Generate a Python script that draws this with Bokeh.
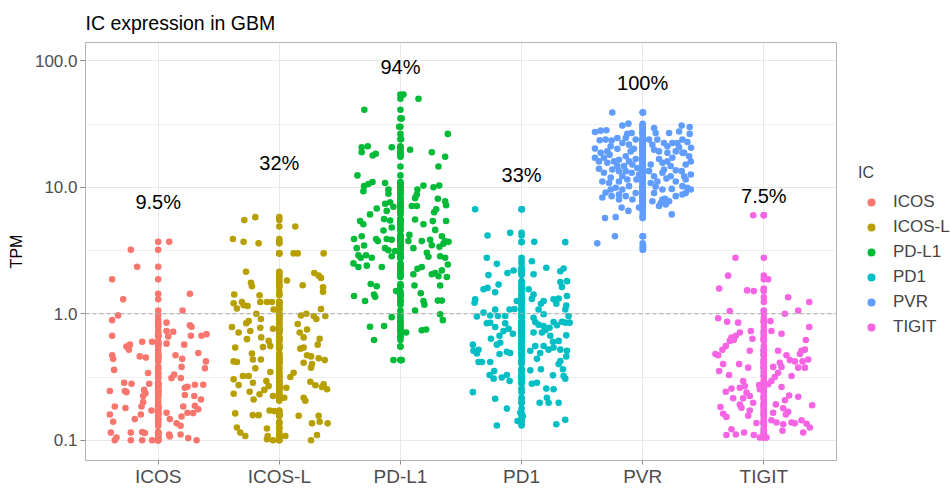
from bokeh.plotting import figure
from bokeh.layouts import row
from bokeh.models import (ColumnDataSource, Range1d, FixedTicker, CustomJSTickFormatter,
                          Span, Legend, LegendItem)
from bokeh.core.properties import value
from bokeh.embed import file_html
from bokeh.resources import INLINE

FONT = "Liberation Sans"

categories = ["ICOS", "ICOS-L", "PD-L1", "PD1", "PVR", "TIGIT"]
colors = ["#F8766D", "#B79F00", "#00BA38", "#00BFC4", "#619CFF", "#F564E3"]
pct_labels = ["9.5%", "32%", "94%", "33%", "100%", "7.5%"]
pct_label_tpm = [7.7, 15.6, 90, 12.6, 66.5, 8.5]
y_ticks = [0.1, 1, 10, 100]
y_minor = [0.316, 3.16, 31.6]

# TPM values and horizontal jitter offsets (category units)
icos_tpm = [3.7, 3.2, 2.35, 1.87, 1.44, 1.30, 1.06, 0.97, 0.89, 0.81,
            0.79, 0.85, 0.73, 0.72, 0.67, 0.67, 0.66, 0.67, 0.69, 0.60,
            0.60, 0.58, 0.57, 0.57, 0.55, 0.52, 0.47, 0.44, 0.46, 0.45,
            0.47, 0.49, 0.44, 0.42, 0.36, 0.38, 0.37, 0.34, 0.33, 0.31,
            0.31, 0.285, 0.28, 0.28, 0.245, 0.245, 0.24, 0.25, 0.235, 0.265,
            0.26, 0.275, 0.275, 0.224, 0.228, 0.224, 0.21, 0.20, 0.185, 0.185,
            0.18, 0.172, 0.185, 0.187, 0.176, 0.16, 0.16, 0.165, 0.154, 0.165,
            0.164, 0.147, 0.14, 0.147, 0.136, 0.13, 0.115, 0.115, 0.116, 0.114,
            0.111, 0.111, 0.105, 0.10, 0.10, 0.10, 0.10, 0.107, 0.104, 0.10]
icos_dx = [0.091, -0.226, -0.174, -0.380, 0.262, -0.289, 0.201, -0.331, -0.380, 0.262,
           0.275, 0.069, 0.069, 0.124, -0.380, 0.270, 0.083, 0.358, 0.399, -0.132,
           -0.050, 0.069, 0.215, -0.234, -0.262, -0.242, -0.380, -0.372, -0.152, -0.102,
           0.143, 0.331, 0.198, 0.394, -0.364, 0.193, 0.386, -0.083, 0.132, 0.110,
           0.187, -0.281, -0.220, -0.074, -0.399, -0.275, -0.262, -0.116, -0.105, 0.242,
           0.220, 0.303, 0.372, -0.124, 0.220, 0.298, 0.353, -0.124, -0.138, -0.358,
           -0.270, -0.055, 0.207, 0.303, 0.331, -0.399, -0.143, 0.069, 0.193, 0.242,
           0.289, -0.193, -0.372, 0.096, 0.152, 0.185, -0.391, -0.226, -0.132, -0.110,
           0.091, 0.185, -0.344, -0.358, -0.226, -0.132, -0.050, 0.096, 0.248, 0.317]

icosl_tpm = [5.5, 5.8, 4.9, 3.9, 3.7, 3.6, 3.0, 3.0, 3.0, 2.15,
             2.1, 2.0, 1.92, 1.83, 1.76, 1.65, 1.68, 1.62, 1.49, 1.42,
             1.40, 1.24, 1.21, 1.24, 1.17, 1.15, 1.10, 1.24, 1.24, 1.08,
             1.09, 0.97, 1.0, 0.96, 0.91, 0.96, 1.0, 0.91, 0.875, 0.84,
             0.785, 0.73, 0.71, 0.775, 0.76, 0.83, 0.75, 0.71, 0.65, 0.63,
             0.65, 0.61, 0.635, 0.57, 0.54, 0.545, 0.555, 0.54, 0.53, 0.485,
             0.435, 0.435, 0.42, 0.415, 0.47, 0.46, 0.41, 0.40, 0.43, 0.445,
             0.37, 0.375, 0.346, 0.342, 0.316, 0.322, 0.322, 0.303, 0.273, 0.285,
             0.294, 0.268, 0.29, 0.272, 0.264, 0.253, 0.277, 0.25, 0.231, 0.242,
             0.233, 0.224, 0.26, 0.217, 0.21, 0.217, 0.205, 0.163, 0.158, 0.158,
             0.172, 0.17, 0.156, 0.156, 0.136, 0.14, 0.136, 0.126, 0.115, 0.108,
             0.124, 0.108, 0.102, 0.10, 0.108, 0.11, 0.10]
icosl_dx = [-0.289, -0.198, 0.132, -0.383, -0.295, -0.171, 0.118, 0.152, 0.366, -0.275,
            0.289, 0.325, 0.344, 0.063, -0.234, -0.226, 0.193, 0.361, 0.361, -0.372,
            -0.163, -0.157, -0.377, -0.309, -0.295, -0.262, -0.350, -0.102, -0.061, -0.047,
            0.344, 0.179, 0.223, 0.284, 0.306, 0.380, -0.190, -0.152, -0.253, -0.273,
            -0.391, -0.240, -0.336, -0.157, -0.052, 0.152, 0.229, 0.168, 0.201, -0.267,
            -0.149, -0.088, 0.333, 0.317, -0.364, -0.135, -0.074, 0.201, 0.174, -0.226,
            -0.218, -0.152, -0.377, -0.350, 0.229, 0.262, 0.201, 0.270, 0.375, 0.325,
            -0.198, 0.262, -0.074, 0.118, 0.091, -0.300, -0.253, -0.377, -0.336, -0.218,
            -0.107, -0.088, 0.256, 0.298, 0.353, 0.394, 0.366, -0.124, -0.163, -0.245,
            -0.377, -0.052, 0.058, 0.041, -0.212, 0.201, 0.215, -0.364, -0.218, -0.171,
            -0.080, -0.041, 0.160, 0.325, 0.270, 0.333, 0.399, -0.350, -0.322, -0.281,
            -0.102, -0.096, -0.102, -0.052, 0.050, 0.311, 0.262]

pdl1_tpm = [54, 50, 41, 26.4, 20.7, 21.1, 18.9, 18.4, 17.8, 20.7,
            19.8, 18.9, 17.4, 14.6, 12.4, 11.0, 10.6, 10.2, 9.3, 10.8,
            9.6, 8.9, 10.3, 9.6, 8.75, 8.2, 10.0, 10.3, 8.1, 7.75,
            7.2, 7.4, 7.6, 7.0, 6.5, 6.8, 6.1, 7.1, 7.1, 6.35,
            6.7, 5.4, 5.1, 5.6, 5.45, 4.8, 5.55, 5.1, 5.4, 5.4,
            4.55, 4.2, 4.6, 3.9, 4.1, 3.9, 3.75, 3.9, 3.85, 3.75,
            3.75, 3.85, 4.1, 3.75, 3.3, 3.46, 3.3, 3.18, 3.13, 3.3,
            3.48, 3.38, 3.57, 3.7, 2.9, 2.77, 2.9, 2.77, 2.85, 3.03,
            2.82, 2.85, 2.77, 2.5, 2.34, 2.4, 2.34, 2.34, 2.27, 2.05,
            2.05, 2.1, 2.2, 2.45, 1.95, 1.98, 1.72, 1.65, 1.67, 1.67,
            1.38, 1.42, 1.36, 1.51, 1.45, 1.26, 1.18, 1.26, 1.27, 1.27,
            1.06, 0.99, 0.89, 0.94, 0.79, 0.80, 0.74, 0.75, 0.71, 0.62,
            0.43, 0.43, 35, 30, 24, 0.55, 0.66, 0.85]
pdl1_dx = [0.025, 0.149, -0.298, 0.391, -0.320, -0.270, -0.320, -0.204, -0.229, -0.072,
           0.080, 0.259, 0.369, 0.314, -0.355, -0.231, -0.264, -0.300, -0.306, -0.127,
           -0.099, -0.099, 0.190, 0.140, 0.135, 0.121, 0.273, 0.320, 0.309, 0.369,
           0.377, -0.127, -0.085, -0.058, -0.113, -0.196, -0.251, 0.094, 0.135, 0.278,
           0.295, -0.333, -0.306, -0.135, -0.085, -0.072, 0.121, 0.190, 0.267, 0.377,
           -0.140, 0.074, 0.287, -0.383, -0.320, -0.201, -0.187, -0.113, -0.072, 0.066,
           0.176, 0.245, 0.342, 0.369, -0.361, -0.300, -0.127, -0.099, -0.044, 0.107,
           0.259, 0.322, 0.355, 0.397, -0.347, -0.328, -0.284, -0.237, -0.072, 0.218,
           0.231, 0.328, 0.369, -0.388, -0.347, -0.278, -0.154, 0.176, 0.140, 0.107,
           0.259, 0.287, 0.342, 0.391, 0.383, 0.314, -0.245, -0.196, 0.116, 0.328,
           -0.383, -0.218, -0.209, -0.036, 0.168, 0.190, 0.198, -0.292, 0.309, 0.342,
           0.121, 0.328, 0.350, -0.072, -0.251, -0.135, 0.176, 0.212, 0.047, -0.218,
           -0.058, 0.011, 0.010, -0.010, 0.005, 0.0, 0.0, 0.0]

pd1_tpm = [6.7, 6.7, 4.15, 4.36, 3.7, 3.68, 2.77, 2.48, 2.6, 2.31,
           2.17, 2.28, 2.02, 2.1, 2.2, 2.05, 1.78, 1.63, 1.81, 1.56,
           1.6, 1.48, 1.7, 1.56, 1.42, 1.31, 1.3, 1.22, 1.26, 1.2,
           1.3, 1.32, 1.2, 1.38, 1.16, 1.08, 1.02, 0.97, 1.08, 0.95,
           0.96, 1.08, 1.09, 0.96, 1.26, 1.08, 0.99, 0.93, 0.86, 0.82,
           0.8, 0.71, 0.71, 0.74, 0.775, 0.86, 0.81, 0.865, 0.85, 0.96,
           0.85, 0.84, 0.85, 0.785, 0.84, 0.76, 0.73, 0.67, 0.695, 0.635,
           0.57, 0.51, 0.52, 0.486, 0.57, 0.59, 0.67, 0.6, 0.61, 0.675,
           0.52, 0.51, 0.46, 0.555, 0.49, 0.44, 0.51, 0.555, 0.52, 0.54,
           0.48, 0.5, 0.49, 0.415, 0.415, 0.415, 0.352, 0.328, 0.307, 0.313,
           0.328, 0.294, 0.357, 0.364, 0.326, 0.4, 0.423, 0.364, 0.307, 0.322,
           0.28, 0.285, 0.256, 0.253, 0.24, 0.213, 0.178, 0.198, 0.198, 0.217,
           0.198, 0.131, 0.142, 0.134, 0.145, 0.155, 0.165]
pd1_dx = [-0.383, 0.003, -0.281, -0.094, 0.105, 0.361, -0.287, -0.204, 0.085, 0.204,
          0.320, 0.347, -0.273, -0.116, -0.066, 0.099, 0.320, 0.333, 0.375, -0.314,
          -0.281, -0.218, -0.190, 0.058, 0.099, 0.085, -0.383, -0.388, 0.182, 0.160,
          0.264, 0.306, 0.287, 0.375, 0.369, 0.361, -0.314, -0.259, -0.218, -0.369,
          -0.196, -0.099, -0.058, -0.135, -0.039, 0.140, 0.182, 0.099, 0.113, 0.140,
          0.182, 0.168, 0.099, 0.196, 0.231, 0.264, 0.292, 0.333, 0.361, 0.388,
          0.397, -0.287, -0.259, -0.218, -0.135, -0.107, -0.149, -0.182, -0.072, -0.253,
          -0.402, -0.397, -0.355, -0.369, -0.204, -0.176, 0.237, 0.259, 0.306, 0.369,
          0.320, 0.375, 0.369, 0.113, 0.154, 0.127, 0.072, 0.182, 0.223, 0.264,
          -0.182, -0.121, -0.094, -0.355, -0.328, -0.259, -0.226, -0.264, -0.231, -0.163,
          -0.121, -0.099, 0.072, 0.160, 0.259, 0.306, 0.320, 0.342, 0.361, 0.347,
          0.085, 0.127, 0.204, 0.264, -0.402, -0.218, -0.121, 0.149, 0.223, 0.209,
          0.306, -0.204, -0.033, 0.287, 0.361, 0.010, -0.010]

pvr_tpm = [39, 39, 31.8, 30.7, 30.7, 29.9, 27.3, 28, 28.2, 29.4,
           26.8, 26.4, 26.4, 23.4, 23.5, 22.4, 21.7, 20.1, 20.2, 19.2,
           18.1, 17.1, 17.1, 16.0, 16.5, 17.6, 19.2, 20.1, 16.0, 16.7,
           19.8, 19.2, 18.7, 22.4, 23.8, 22.8, 20.7, 19.2, 18.7, 20.5,
           17.6, 16.0, 16.7, 15.6, 15.1, 14.0, 13.0, 11.9, 11.1, 12.2,
           11.5, 13.0, 14.2, 11.5, 11.1, 10.8, 9.9, 9.1, 8.75, 8.5,
           8.3, 8.5, 9.0, 13.4, 12.2, 10.1, 9.0, 13.8, 11.7, 14.7,
           13.6, 13.4, 12.2, 9.6, 9.7, 10.2, 9.9, 9.0, 8.75, 9.6,
           8.1, 7.3, 7.75, 6.1, 7.5, 7.75, 6.9, 6.5, 6.9, 5.7,
           5.8, 4.1, 3.6, 4.1, 3.2,
           24.5, 26.8, 23.8, 23.8, 21.7, 23.8, 21.1, 22.4, 22.4, 18.7,
           21.1, 18.7, 14.7, 14.7, 15.1, 15.6, 13.8, 13.4, 12.6, 10.8,
           11.1, 12.2, 11.1, 11.5, 12.6, 10.2, 9.6, 9.6, 8.0, 8.0,
           8.5, 7.1, 8.0, 16.0, 13.0, 17.1, 15.1, 23.8, 24.5, 26.8,
           27.6, 16.0, 13.4, 3.4]
pvr_dx = [-0.251, 0.003, -0.118, -0.168, 0.322, 0.388, -0.394, -0.347, -0.300, 0.094,
          0.107, 0.388, -0.127, -0.256, -0.355, -0.168, -0.113, -0.209, -0.394, -0.292,
          -0.273, -0.320, -0.394, -0.237, -0.196, -0.140, -0.099, -0.072, -0.113, -0.058,
          0.094, 0.135, 0.204, 0.176, 0.328, 0.369, 0.300, 0.273, 0.342, 0.399,
          0.383, 0.397, 0.135, 0.163, 0.066, -0.361, -0.320, -0.264, -0.196, -0.168,
          -0.127, -0.091, -0.044, -0.052, -0.333, -0.278, -0.223, -0.306, -0.196, -0.140,
          -0.333, -0.256, -0.058, 0.052, 0.094, 0.107, 0.094, 0.176, 0.196, 0.231,
          0.273, 0.322, 0.342, 0.163, 0.240, 0.328, 0.369, 0.355, 0.328, 0.397,
          0.185, 0.190, 0.218, 0.240, 0.149, 0.080, -0.174, -0.118, -0.030, -0.311,
          -0.223, -0.229, -0.375, 0.003, 0.003,
          -0.140, -0.091, -0.058, 0.052, 0.080, 0.121, 0.204, 0.245, 0.287, 0.328,
          -0.264, -0.347, -0.209, -0.154, -0.085, -0.292, -0.251, -0.196, -0.030, 0.066,
          0.121, 0.231, 0.273, 0.355, 0.397, -0.113, -0.168, -0.264, -0.085, 0.163,
          0.273, 0.135, -0.196, 0.204, 0.163, 0.245, 0.355, -0.306, -0.209, 0.218,
          0.300, -0.361, -0.140, 0.004]

tigit_tpm = [6.0, 6.0, 2.77, 2.0, 1.87, 1.58, 1.53, 1.51, 1.35,
             1.24, 1.06, 1.05, 1.0, 0.92, 0.865, 0.85, 0.875, 0.785, 0.73,
             0.73, 0.695, 0.71, 0.67, 0.65, 0.62, 0.61, 0.635, 0.62, 0.555,
             0.52, 0.51, 0.51, 0.48, 0.47, 0.47, 0.48, 0.52, 0.51, 0.435,
             0.43, 0.42, 0.42, 0.40, 0.40, 0.41, 0.38, 0.38, 0.375, 0.375,
             0.352, 0.375, 0.342, 0.316, 0.322, 0.328, 0.294, 0.277, 0.294, 0.268,
             0.256, 0.242, 0.26, 0.238, 0.273, 0.253, 0.264, 0.224, 0.215, 0.215,
             0.221, 0.226, 0.207, 0.192, 0.181, 0.198, 0.183, 0.192, 0.179, 0.168,
             0.16, 0.189, 0.162, 0.153, 0.172, 0.156, 0.165, 0.144, 0.137, 0.138,
             0.134, 0.138, 0.136, 0.144, 0.135, 0.122, 0.11, 0.111, 0.115, 0.11,
             0.119, 0.115, 0.126, 0.105, 0.105]
tigit_dx = [-0.088, 0.0, -0.234, -0.295, 0.036, -0.369, -0.138, -0.083, 0.201,
            0.375, 0.284, -0.281, 0.174, -0.377, -0.303, -0.212, 0.055, 0.375, -0.107,
            0.063, 0.146, -0.198, -0.231, -0.267, -0.248, -0.281, -0.094, 0.347, -0.314,
            -0.342, -0.116, 0.118, -0.399, -0.377, 0.187, 0.298, 0.339, 0.311, 0.366,
            0.215, 0.256, 0.320, -0.336, -0.204, 0.132, 0.146, 0.077, 0.284, 0.339,
            -0.369, -0.129, 0.118, 0.091, 0.229, -0.287, 0.063, 0.036, -0.171, -0.157,
            -0.267, -0.314, -0.198, -0.143, -0.039, -0.033, 0.146, -0.116, -0.253, -0.171,
            0.284, 0.209, 0.174, -0.198, -0.185, -0.088, -0.358, 0.099, 0.160, 0.201,
            0.182, 0.399, -0.336, -0.309, -0.116, -0.129, 0.077, 0.063, -0.061, 0.105,
            0.160, 0.229, 0.256, 0.311, 0.353, -0.267, -0.309, -0.231, -0.163, -0.083,
            0.154, 0.325, 0.380, -0.033, 0.022]

series = [(icos_tpm, icos_dx), (icosl_tpm, icosl_dx), (pdl1_tpm, pdl1_dx),
          (pd1_tpm, pd1_dx), (pvr_tpm, pvr_dx), (tigit_tpm, tigit_dx)]

POINT_SIZE = 6.6

p = figure(width=837, height=489, x_range=Range1d(0.4, 6.6),
           y_range=Range1d(10 ** -1.16, 10 ** 2.144), y_axis_type="log",
           output_backend="svg", toolbar_location=None,
           min_border_left=85, min_border_right=1, min_border_top=42, min_border_bottom=28,
           title="IC expression in GBM")
p.background_fill_color = "white"
p.border_fill_color = "white"
p.outline_line_color = "#b3b3b3"
p.outline_line_width = 1

p.title.text_font = FONT
p.title.text_font_size = "19.5px"
p.title.text_font_style = "normal"
p.title.text_color = "black"
p.title.align = "left"
p.title.vertical_align = "bottom"
p.title.standoff = 17

sources = []
for i, (cat, col, (tpm, dx)) in enumerate(zip(categories, colors, series), start=1):
    n = min(len(tpm), len(dx))
    xs = [i] * n + [i + d for d in dx[:n]]
    ys = list(tpm[:n]) + list(tpm[:n])
    src = ColumnDataSource(dict(x=xs, y=ys))
    sources.append(src)
    p.scatter("x", "y", source=src, size=POINT_SIZE, fill_color=col, line_color=None)

hline = Span(location=1, dimension="width", line_color="#a8a8a8",
             line_dash="4 3", line_width=1)
p.add_layout(hline)

lab_src = ColumnDataSource(dict(x=list(range(1, 7)), y=pct_label_tpm, t=pct_labels))
p.text(x="x", y="y", text="t", source=lab_src, text_align="center",
       text_baseline="middle", text_font=value(FONT), text_font_size="20px",
       text_color="black")

# axes
p.xaxis.ticker = FixedTicker(ticks=list(range(1, 7)))
p.xaxis.major_label_overrides = {i: c for i, c in enumerate(categories, start=1)}
p.yaxis.ticker = FixedTicker(ticks=y_ticks, minor_ticks=y_minor)
p.yaxis.formatter = CustomJSTickFormatter(code="return tick.toFixed(1);")
for ax in (p.xaxis[0], p.yaxis[0]):
    ax.axis_line_color = None
    ax.major_tick_line_color = "#8c8c8c"
    ax.major_tick_in = 0
    ax.minor_tick_line_color = None
    ax.major_label_text_font = FONT
    ax.major_label_text_color = "#4d4d4d"
p.xaxis.major_tick_out = 4
p.xaxis.major_label_standoff = 1
p.xaxis.major_label_text_font_size = "19px"
p.yaxis.major_tick_out = 5
p.yaxis.major_label_standoff = 3
p.yaxis.major_label_text_font_size = "17px"
p.yaxis.axis_label = "TPM"
p.yaxis.axis_label_text_font = FONT
p.yaxis.axis_label_text_font_size = "16px"
p.yaxis.axis_label_text_font_style = "normal"
p.yaxis.axis_label_text_color = "black"
p.yaxis.axis_label_standoff = 7

p.xgrid.grid_line_color = "#e8e8e8"
p.ygrid.grid_line_color = "#e8e8e8"
p.ygrid.minor_grid_line_color = "#efefef"

# legend panel: a separate canvas to the right of the plot panel; its key glyphs
# share the data sources, but its ranges show none of the points themselves
lp = figure(width=113, height=489, x_range=Range1d(-20, -19), y_range=Range1d(-20, -19),
            x_axis_location=None, y_axis_location=None,
            output_backend="svg", toolbar_location=None, min_border=0)
lp.outline_line_color = None
lp.grid.grid_line_color = None
lp.background_fill_color = "white"
lp.border_fill_color = "white"
key_renderers = [lp.scatter("x", "y", source=s, size=POINT_SIZE, fill_color=c, line_color=None)
                 for s, c in zip(sources, colors)]
legend = Legend(items=[LegendItem(label=c, renderers=[r]) for c, r in zip(categories, key_renderers)],
                location=(21, 123), title="IC")
legend.border_line_color = None
legend.background_fill_alpha = 0
legend.padding = 0
legend.margin = 0
legend.spacing = 5
legend.glyph_width = 26
legend.glyph_height = 20
legend.label_height = 20
legend.label_standoff = 9
legend.label_text_font = FONT
legend.label_text_font_size = "17px"
legend.title_text_font = FONT
legend.title_text_font_size = "16px"
legend.title_text_font_style = "normal"
legend.title_standoff = 10
lp.add_layout(legend)

layout = row(p, lp, spacing=0)
open("out.html", "w").write(file_html(layout, INLINE))
